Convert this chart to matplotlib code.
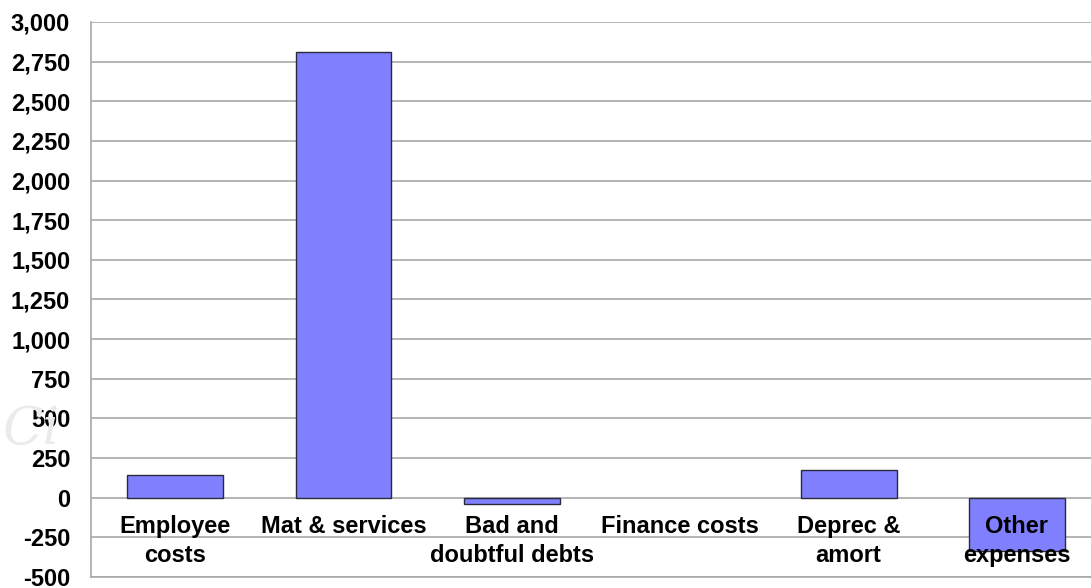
import matplotlib.pyplot as plt
from matplotlib.ticker import FuncFormatter

categories = ['Employee\ncosts', 'Mat & services', 'Bad and\ndoubtful debts',
              'Finance costs', 'Deprec &\namort', 'Other\nexpenses']
values = [145, 2810, -40, 0, 177, -335]

plt.rcParams['font.family'] = ['Liberation Sans', 'DejaVu Sans']
plt.rcParams['font.weight'] = 'bold'

fig = plt.figure(figsize=(10.91, 5.88), dpi=100)
ax = fig.add_axes([0.0834, 0.0187, 0.9258, 0.9439])

x = range(len(categories))
edges = ['#2a2a3a' if v != 0 else 'none' for v in values]
ax.bar(x, values, width=0.57, color='#8080FF', edgecolor=edges, linewidth=1.0, zorder=3)

ax.set_xlim(-0.5, 5.5)
ax.set_ylim(-500, 3000)
ax.set_yticks(range(-500, 3001, 250))
ax.yaxis.set_major_formatter(FuncFormatter(lambda v, p: f'{int(v):,}'))
ax.tick_params(axis='y', length=0, labelsize=17, pad=15)
ax.set_xticks([])
ax.grid(axis='y', color='#a8a8a8', linewidth=1.2, zorder=0)

for s in ['top', 'right']:
    ax.spines[s].set_visible(False)
for s in ['left', 'bottom']:
    ax.spines[s].set_color('#a8a8a8')
    ax.spines[s].set_linewidth(1.2)

# category labels sit inside the plot just under the zero line
for i, lab in enumerate(categories):
    ax.text(i, -110, lab, ha='center', va='top', fontsize=17,
            fontweight='bold', linespacing=1.32, zorder=4)

# faint watermark
fig.text(0.003, 0.245, 'Ci', fontsize=38, style='italic', family='DejaVu Serif',
         color='#ebebeb', fontweight='normal', zorder=0)

fig.savefig('out.png', dpi=100)
